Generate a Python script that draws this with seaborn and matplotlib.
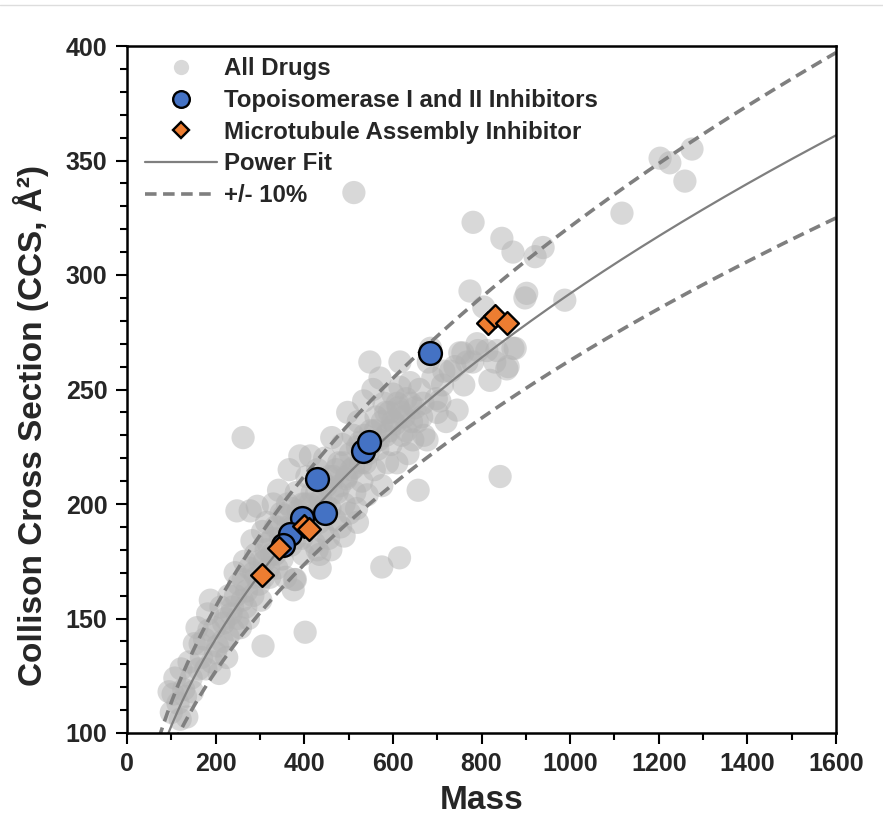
import numpy as np
import pandas as pd
import matplotlib
matplotlib.use("Agg")
import matplotlib.pyplot as plt
from matplotlib.ticker import MultipleLocator
from matplotlib.lines import Line2D
import seaborn as sns

# ---------------- data ----------------
all_mass = [
    95, 104, 108, 100, 115, 122, 128, 135, 140, 145, 152, 158, 162, 168, 175, 182, 188, 192, 198, 204, 208,
    212, 218, 225, 230, 235, 240, 244, 248, 252, 256, 260, 265, 270, 274, 278, 282, 286, 290, 294, 298, 302, 306,
    310, 315, 318, 322, 326, 330, 335, 338, 342, 346, 350, 354, 358, 362, 366, 370, 374, 378, 382, 386, 390, 394, 398, 402,
    406, 410, 414, 418, 422, 426, 430, 435, 438, 442, 446, 450, 455, 458, 462, 466, 470, 474, 478, 482, 486, 490, 494, 498, 502,
    506, 510, 514, 518, 522, 526, 530, 534, 538, 542, 548, 550, 555, 558, 562, 566, 571, 575, 580, 584, 588, 592, 596, 600,
    605, 609, 612, 616, 616, 620, 625, 630, 634, 639, 642, 645, 650,
    657, 660, 665, 670, 677, 680, 685, 690, 698, 706, 712, 720, 730, 740, 745, 751, 758, 767, 774, 781, 790, 792, 805, 812,
    819, 830, 835, 842, 846, 857, 860, 871, 871, 876, 898, 902, 921, 939, 988, 1117, 1203, 1225, 1259, 1275,
    512, 262, 402, 307, 575, 615, 436, 380, 460, 490, 520, 429, 375,
    120, 132, 148, 165, 178, 185, 200, 215, 222, 228, 238, 245, 250, 262, 268, 276, 284, 292, 300, 308,
    314, 320, 328, 334, 340, 348, 356, 364, 372, 380, 388, 396, 404, 412, 420, 428, 434, 440, 448, 456,
    464, 472, 480, 488, 496, 504, 512, 520, 528, 536, 544, 552, 560, 568, 576, 584, 592, 600, 610, 620,
    630, 640, 655, 668, 700, 715, 760, 780,
]
all_ccs = [
    118, 117, 124, 109, 113, 128, 119, 107, 131, 124, 139, 146, 128, 133, 141, 152, 158, 131, 146, 138, 126,
    155, 148, 133, 160, 152, 145, 170, 197, 165, 146, 158, 175, 162, 150, 197, 184, 170, 178, 199, 165, 158, 188,
    175, 192, 183, 168, 178, 200, 190, 172, 206, 185, 176, 195, 168, 200, 215, 182, 190, 167, 205, 197, 221, 185, 178, 200,
    212, 190, 221, 205, 183, 196, 215, 178, 202, 188, 220, 208, 185, 198, 229, 212, 193, 205, 218, 190, 226, 200, 211, 240, 196,
    215, 230, 205, 198, 236, 227, 210, 245, 218, 204, 262, 232, 250, 215, 238, 224, 255, 208, 244, 230, 218, 240, 226, 248,
    235, 218, 242, 262, 251, 230, 238, 246, 222, 253, 236, 228, 242,
    206, 250, 238, 230, 228, 262, 268, 255, 246, 245, 252, 236, 258, 260, 241, 266, 266, 262, 293, 323, 270, 267, 286, 267,
    254, 262, 267, 212, 316, 259, 260, 268, 310, 268, 290, 292, 308, 312, 289, 327, 351, 349, 341, 355,
    336, 229, 144, 138, 172.5, 176.5, 172, 167, 180, 186, 192, 180, 162.5,
    106, 116, 118, 139, 128, 145, 135, 140, 150, 142, 155, 160, 150, 167, 155, 172, 160, 168, 175, 168,
    180, 172, 185, 178, 190, 196, 182, 190, 198, 185, 192, 200, 190, 200, 195, 205, 192, 210, 200, 212,
    205, 215, 208, 218, 212, 222, 216, 225, 218, 230, 222, 226, 232, 228, 236, 240, 232, 236, 244, 240,
    232, 244, 236, 244, 240, 258, 252, 262,
]

topo_mass = [684, 429, 533, 546, 447, 395, 368, 352]
topo_ccs = [266, 211, 223, 227, 196, 194, 187, 182]

micro_mass = [305, 343, 400, 411, 815, 830, 857]
micro_ccs = [169, 181, 190.5, 189, 279, 282, 279]

# power-fit coefficients: CCS = FIT_A * Mass ** FIT_B ; band = +/- 10 %
FIT_A = 12.86
FIT_B = 0.452
BAND = 0.10

x_ticks = [0, 200, 400, 600, 800, 1000, 1200, 1400, 1600]
y_ticks = [100, 150, 200, 250, 300, 350, 400]

# ---------------- plotting ----------------
sns.set_theme(style="ticks")
plt.rcParams["font.family"] = ["Liberation Sans", "DejaVu Sans"]
plt.rcParams["font.weight"] = "bold"

fig = plt.figure(figsize=(8.83, 8.26), dpi=100)
ax = fig.add_axes([127 / 883, 93 / 826, 709 / 883, 687 / 826])

df_all = pd.DataFrame({"Mass": all_mass, "CCS": all_ccs})
df_topo = pd.DataFrame({"Mass": topo_mass, "CCS": topo_ccs})
df_micro = pd.DataFrame({"Mass": micro_mass, "CCS": micro_ccs})

fit_x = np.linspace(60, 1600, 400)
fit_y = FIT_A * fit_x ** FIT_B
df_fit = pd.DataFrame({"Mass": fit_x, "fit": fit_y,
                       "up": fit_y * (1 + BAND), "lo": fit_y * (1 - BAND)})

sns.scatterplot(data=df_all, x="Mass", y="CCS", ax=ax, color="#b3b3b3", alpha=0.5,
                s=280, edgecolor="none", zorder=1)
sns.lineplot(data=df_fit, x="Mass", y="fit", ax=ax, color="#7f7f7f", lw=1.6, zorder=2)
sns.lineplot(data=df_fit, x="Mass", y="up", ax=ax, color="#7f7f7f", lw=2.6, zorder=2)
sns.lineplot(data=df_fit, x="Mass", y="lo", ax=ax, color="#7f7f7f", lw=2.6, zorder=2)
ax.lines[1].set_dashes((3.2, 1.8))
ax.lines[2].set_dashes((3.2, 1.8))
sns.scatterplot(data=df_topo, x="Mass", y="CCS", ax=ax, color="#4472C4", s=270,
                edgecolor="black", linewidth=1.7, zorder=3)
sns.scatterplot(data=df_micro, x="Mass", y="CCS", ax=ax, color="#ED7D31", marker="D",
                s=135, edgecolor="black", linewidth=1.7, zorder=4)

ax.set_xlim(0, 1600)
ax.set_ylim(100, 400)
ax.set_xticks(x_ticks)
ax.set_yticks(y_ticks)
ax.xaxis.set_minor_locator(MultipleLocator(100))
ax.yaxis.set_minor_locator(MultipleLocator(10))
ax.tick_params(which="major", direction="out", length=8, width=1.5, color="black",
               labelsize=18, pad=6)
ax.tick_params(which="minor", direction="out", length=5, width=1.5, color="black")
for lab in ax.get_xticklabels() + ax.get_yticklabels():
    lab.set_fontweight("bold")
for sp in ax.spines.values():
    sp.set_visible(True)
    sp.set_linewidth(1.8)
    sp.set_color("black")

ax.set_xlabel("Mass", fontsize=24, fontweight="bold", labelpad=6)
ax.set_ylabel("Collison Cross Section (CCS, Å²)", fontsize=24, fontweight="bold")
ax.yaxis.set_label_coords(-0.11, 0.447)

handles = [
    Line2D([], [], ls="none", marker="o", markersize=11, markerfacecolor="#d9d9d9", markeredgecolor="none"),
    Line2D([], [], ls="none", marker="o", markersize=12, markerfacecolor="#4472C4",
           markeredgecolor="black", markeredgewidth=1.7),
    Line2D([], [], ls="none", marker="D", markersize=8.5, markerfacecolor="#ED7D31",
           markeredgecolor="black", markeredgewidth=1.7),
    Line2D([], [], color="#7f7f7f", lw=1.6),
    Line2D([], [], color="#7f7f7f", lw=2.6, dashes=(3.2, 1.8)),
]
labels = ["All Drugs", "Topoisomerase I and II Inhibitors", "Microtubule Assembly Inhibitor",
          "Power Fit", "+/- 10%"]
ax.legend(handles, labels, loc="upper left", bbox_to_anchor=(-0.005, 1.015), frameon=False,
          prop={"size": 17.3, "weight": "bold"}, handlelength=3.0, handletextpad=0.3,
          labelspacing=0.36, borderaxespad=0.5)

fig.add_artist(Line2D([0, 1], [1 - 5 / 826, 1 - 5 / 826], transform=fig.transFigure,
                      color="#dddddd", lw=1))

fig.savefig("out.png", dpi=100)
